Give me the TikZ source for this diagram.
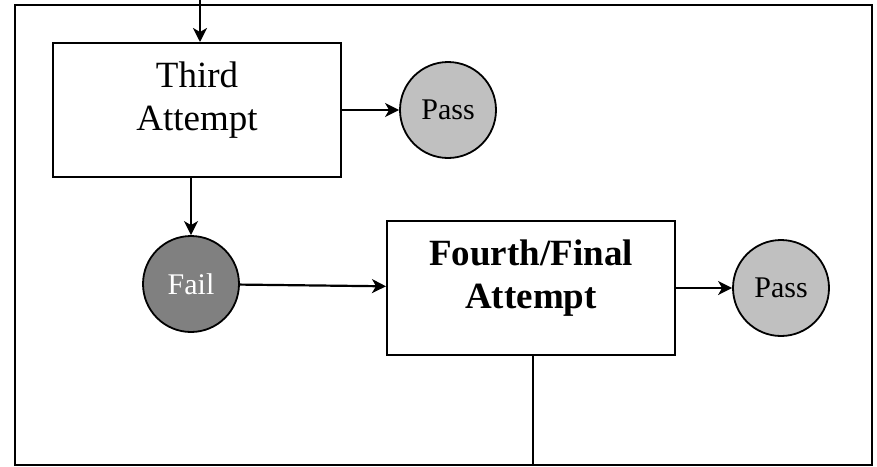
\documentclass[tikz,border=0pt]{standalone}
\usepackage{fontspec}
\setmainfont{Liberation Serif}
\usetikzlibrary{arrows.meta}
\definecolor{passgray}{HTML}{C0C0C0}
\definecolor{failgray}{HTML}{808080}
\begin{document}
\begin{tikzpicture}[x=1pt,y=-1pt,
  attemptbox/.style={draw,line width=2pt,minimum width=288pt,minimum height=134pt,inner sep=0pt},
  boxtext/.style={align=center,inner sep=0pt,font=\fontsize{37}{42.5}\selectfont},
  passnode/.style={circle,draw,line width=1.8pt,fill=passgray,minimum size=96pt,inner sep=0pt,font=\fontsize{30}{34}\selectfont},
  failnode/.style={circle,draw,line width=1.8pt,fill=failgray,text=white,minimum size=96pt,inner sep=0pt,font=\fontsize{30}{34}\selectfont},
  conn/.style={line width=2.2pt,-{Stealth[length=14pt,width=14pt,inset=4pt]}},
  plainconn/.style={line width=2.2pt}]
\useasboundingbox (0,0) rectangle (877,466);
\draw[line width=2pt] (15,4.5) rectangle (872,464.5);
\coordinate (topin) at (200,0);
\coordinate (botout) at (533,464.5);
\node[attemptbox] (third) at (197,110) {};
\node[boxtext] (thirdlabel) at ([yshift=10pt]third.center) {Third\\Attempt};
\node[passnode] (pass1) at (448,110) {Pass};
\node[failnode] (fail) at (191,284) {Fail};
\node[attemptbox] (fourth) at (531,288) {};
\node[boxtext,font=\fontsize{37}{42.5}\selectfont\bfseries] (fourthlabel) at ([yshift=10pt]fourth.center) {Fourth/Final\\Attempt};
\node[passnode] (pass2) at (781,288) {Pass};
\draw[conn] (topin) -- (topin |- third.north);
\draw[conn] (third.east) -- (pass1.west);
\draw[conn] (fail |- third.south) -- (fail.north);
\draw[conn] (fail) -- (fourth);
\draw[conn] (fourth.east) -- (pass2.west);
\draw[plainconn] (botout |- fourth.south) -- (botout);
\end{tikzpicture}
\end{document}
